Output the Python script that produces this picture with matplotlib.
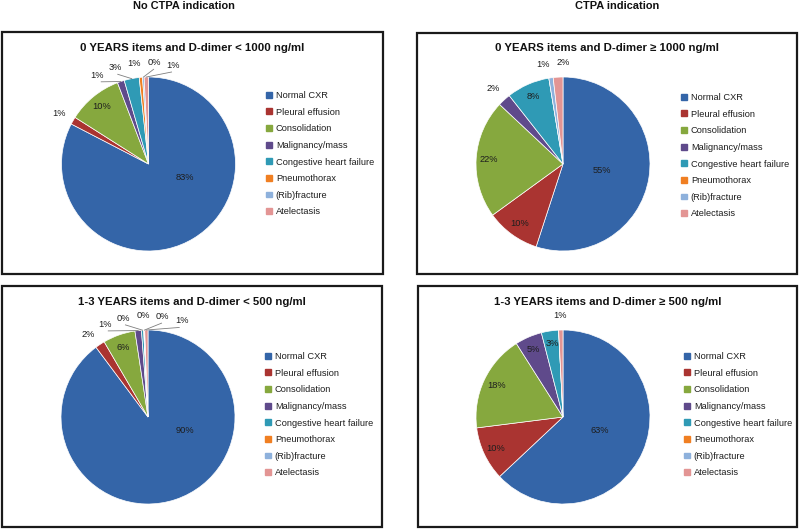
import numpy as np
import matplotlib
matplotlib.use("Agg")
import matplotlib.pyplot as plt
from matplotlib.patches import Rectangle

plt.rcParams['font.family'] = ['Liberation Sans', 'DejaVu Sans']

# categories and colours shared by all four pies
categories = ["Normal CXR", "Pleural effusion", "Consolidation", "Malignancy/mass",
              "Congestive heart failure", "Pneumothorax", "(Rib)fracture", "Atelectasis"]
colors = ["#3465a8", "#aa3431", "#86a83e", "#5f4a8b",
          "#2f9ab5", "#f07f22", "#8eb1dc", "#e39594"]

col_titles = ["No CTPA indication", "CTPA indication"]
panel_titles = ["0 YEARS items and D-dimer < 1000 ng/ml",
                "0 YEARS items and D-dimer \u2265 1000 ng/ml",
                "1-3 YEARS items and D-dimer < 500 ng/ml",
                "1-3 YEARS items and D-dimer \u2265 500 ng/ml"]

# shares in percent
tl_values = [82.6, 1.4, 10.2, 1.3, 2.8, 0.6, 0.3, 0.8]
tr_values = [55.0, 10.0, 22.0, 2.4, 8.0, 0.0, 0.8, 1.8]
bl_values = [89.8, 1.8, 6.0, 1.2, 0.4, 0.1, 0.1, 0.6]
br_values = [63.0, 10.0, 18.0, 5.0, 3.2, 0.0, 0.0, 0.8]

W, H = 800, 529
fig = plt.figure(figsize=(W / 100, H / 100), dpi=100)

# layout in pixels (from top-left corner)
panels = [(2, 32, 383, 274), (417, 33, 797, 274), (2, 286, 382, 527), (418, 286, 797, 527)]
pie_centers = [(148.5, 164), (563, 164), (148, 417), (563, 417)]
radius = 87
legend_pos = [(266, 91), (681, 93), (265, 352), (684, 352)]
title_y = [48, 48, 302, 302]
col_title_x = [184, 617]

label_size = 6.7
text_color = "#1e1e1e"


def spread(angles, gap):
    # keep outside labels at least `gap` degrees apart, centred on their slices
    groups = [[a] for a in angles]
    merged = True
    while merged:
        merged = False
        for i in range(len(groups) - 1):
            a, b = groups[i], groups[i + 1]
            end_a = np.mean(a) + (len(a) - 1) * gap / 2
            start_b = np.mean(b) - (len(b) - 1) * gap / 2
            if start_b - end_a < gap:
                groups[i] = a + b
                del groups[i + 1]
                merged = True
                break
    out = []
    for g in groups:
        m, n = np.mean(g), len(g)
        out += [m + (k - (n - 1) / 2) * gap for k in range(n)]
    return out


def draw_pie(idx, values):
    cx, cy = pie_centers[idx]
    half = 1.4 * radius
    ax = fig.add_axes([(cx - half) / W, 1 - (cy + half) / H, 2 * half / W, 2 * half / H])
    wedges, _ = ax.pie(values, colors=colors, startangle=90, counterclock=False, radius=1,
                       wedgeprops=dict(edgecolor="white", linewidth=0.5))
    ax.set_xlim(-1.4, 1.4)
    ax.set_ylim(-1.4, 1.4)
    ax.set_aspect("equal")
    ax.axis("off")

    total = sum(values)
    outside = []
    for w, v in zip(wedges, values):
        if v == 0:
            continue
        frac = v / total
        mid = (w.theta1 + w.theta2) / 2
        txt = f"{frac * 100:.0f}%"
        if frac > 0.5:
            ang, dist = max(mid, -20), 0.45
        elif frac >= 0.03:
            ang, dist = mid, 0.85
        else:
            outside.append((mid, txt))
            continue
        ax.text(dist * np.cos(np.radians(ang)), dist * np.sin(np.radians(ang)), txt,
                ha="center", va="center", fontsize=label_size, color=text_color)

    outside.sort()
    pos = spread([m for m, _ in outside], 11)
    for (mid, txt), p in zip(outside, pos):
        pr, mr = np.radians(p), np.radians(mid)
        ax.text(1.18 * np.cos(pr), 1.17 * np.sin(pr), txt, ha="center", va="center",
                fontsize=label_size, color=text_color)
        if abs(p - mid) > 4:
            ax.plot([np.cos(mr), 1.09 * np.cos(pr)], [np.sin(mr), 1.09 * np.sin(pr)],
                    color="#7f7f7f", linewidth=0.6, clip_on=False)

    handles = [Rectangle((0, 0), 1, 1, color=c) for c in colors]
    lx, ly = legend_pos[idx]
    ax.legend(handles, categories, loc="upper left", bbox_to_anchor=(lx / W, 1 - ly / H),
              bbox_transform=fig.transFigure, frameon=False, fontsize=label_size,
              handlelength=0.6, handleheight=0.6, handletextpad=0.45, labelspacing=0.82,
              borderpad=0, borderaxespad=0, labelcolor=text_color)


for i, (x0, y0, x1, y1) in enumerate(panels):
    fig.patches.append(Rectangle((x0 / W, 1 - y1 / H), (x1 - x0) / W, (y1 - y0) / H,
                                 transform=fig.transFigure, fill=False,
                                 edgecolor="#1a1a1a", linewidth=1.6))
    fig.text((x0 + x1) / 2 / W, 1 - title_y[i] / H, panel_titles[i], ha="center",
             va="center", fontsize=8.2, fontweight="bold", color="#111111")

for x, t in zip(col_title_x, col_titles):
    fig.text(x / W, 1 - 6 / H, t, ha="center", va="center", fontsize=7.9,
             fontweight="bold", color="#111111")

for i, vals in enumerate([tl_values, tr_values, bl_values, br_values]):
    draw_pie(i, vals)

fig.savefig("out.png", dpi=100)
